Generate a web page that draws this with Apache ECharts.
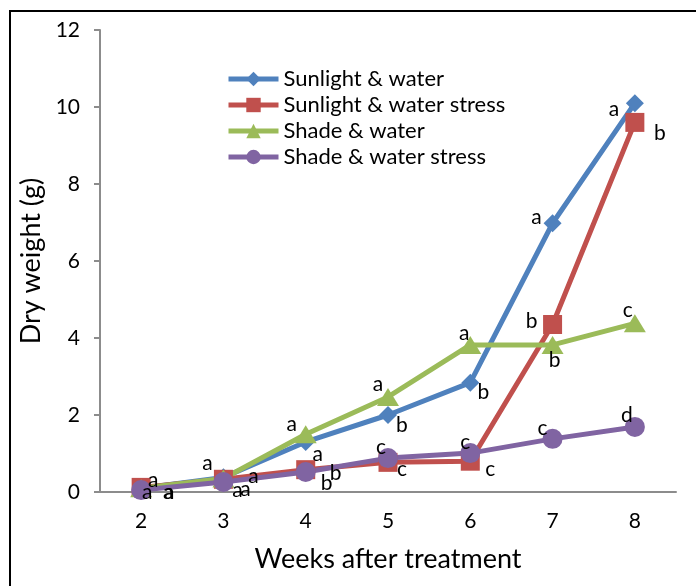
<!DOCTYPE html>
<html>
<head>
<meta charset="utf-8">
<script src="https://cdn.jsdelivr.net/npm/echarts@6/dist/echarts.min.js"></script>
<style>html,body{margin:0;padding:0;background:#fff}#c{width:696px;height:586px}</style>
</head>
<body>
<div id="c"></div>
<script>
const weeks = ['2', '3', '4', '5', '6', '7', '8'];
const seriesNames = ['Sunlight & water', 'Sunlight & water stress', 'Shade & water', 'Shade & water stress'];
const sunWater = [0.1, 0.38, 1.3, 2.0, 2.84, 6.98, 10.1];
const sunStress = [0.12, 0.33, 0.58, 0.77, 0.8, 4.35, 9.6];
const shadeWater = [0.1, 0.35, 1.5, 2.47, 3.82, 3.82, 4.38];
const shadeStress = [0.05, 0.26, 0.52, 0.88, 1.01, 1.38, 1.69];
const sunWaterLetters = ['a', 'a', 'a', 'b', 'b', 'a', 'a'];
const sunStressLetters = ['a', 'a', 'b', 'c', 'c', 'b', 'b'];
const shadeWaterLetters = ['a', 'a', 'a', 'a', 'a', 'b', 'c'];
const shadeStressLetters = ['a', 'a', 'b', 'c', 'c', 'c', 'd'];

// label offsets (styling only)
const offBlue = [[12, -8], [-16, -14], [12, 12], [14, 10], [13, 10], [-16, -6], [-21, 6]];
const offRed = [[27, 5], [22, 10], [21, 14], [14, 7], [20, 8], [-21, -3], [25, 11]];
const offGreen = [[28, 4], [30, -2], [-14, -10], [-10, -13], [-6, -12], [2, 15], [-7, -13]];
const offPurple = [[6, 2], [14, 8], [30, 1], [-7, -11], [-5, -11], [-10, -11], [-8, -12]];

const FONT = 'Lato';
function mk(vals, letters, offs) {
  return vals.map((v, i) => ({ value: v, label: { formatter: letters[i], offset: offs[i] } }));
}
function ser(name, vals, letters, offs, color, symbol, size) {
  return {
    name: name, type: 'line', data: mk(vals, letters, offs),
    symbol: symbol, symbolSize: size, showAllSymbol: true,
    lineStyle: { color: color, width: 5 },
    itemStyle: { color: color },
    label: { show: true, position: 'inside', align: 'center', verticalAlign: 'middle',
      color: '#000', fontFamily: FONT, fontSize: 21 },
    emphasis: { disabled: true },
    animation: false
  };
}
const chart = echarts.init(document.getElementById('c'), null, { renderer: 'canvas' });
chart.setOption({
  animation: false,
  graphic: [{ type: 'rect', shape: { x: 10, y: 11, width: 800, height: 800 },
    style: { fill: 'none', stroke: '#000', lineWidth: 2 }, silent: true }],
  grid: { left: 100, right: 20, top: 30, bottom: 94, containLabel: false },
  legend: {
    orient: 'vertical', left: 221, top: 63, itemWidth: 50, itemHeight: 18, itemGap: 4,
    data: seriesNames,
    lineStyle: { width: 5 },
    textStyle: { fontFamily: FONT, fontSize: 22, color: '#000', lineHeight: 22 }
  },
  xAxis: {
    type: 'category', data: weeks, boundaryGap: true,
    name: 'Weeks after treatment', nameLocation: 'middle', nameGap: 54,
    nameTextStyle: { fontFamily: FONT, fontSize: 27, color: '#000' },
    axisLine: { lineStyle: { color: '#8c8c8c', width: 2 } },
    axisTick: { show: false },
    axisLabel: { fontFamily: FONT, fontSize: 21, color: '#000', margin: 19 }
  },
  yAxis: {
    type: 'value', min: 0, max: 12, interval: 2,
    name: 'Dry weight (g)', nameLocation: 'middle', nameGap: 53,
    nameTextStyle: { fontFamily: FONT, fontSize: 27, color: '#000' },
    axisLine: { show: true, lineStyle: { color: '#8c8c8c', width: 2 } },
    axisTick: { show: true, length: 6, lineStyle: { color: '#8c8c8c', width: 2 } },
    splitLine: { show: false },
    axisLabel: { fontFamily: FONT, fontSize: 21, color: '#000', margin: 20 }
  },
  series: [
    ser(seriesNames[0], sunWater, sunWaterLetters, offBlue, '#4F81BD', 'diamond', 18),
    ser(seriesNames[1], sunStress, sunStressLetters, offRed, '#C0504D', 'rect', 19),
    ser(seriesNames[2], shadeWater, shadeWaterLetters, offGreen, '#9BBB59', 'triangle', [22, 18]),
    ser(seriesNames[3], shadeStress, shadeStressLetters, offPurple, '#8064A2', 'circle', 20)
  ]
});
</script>
</body>
</html>
